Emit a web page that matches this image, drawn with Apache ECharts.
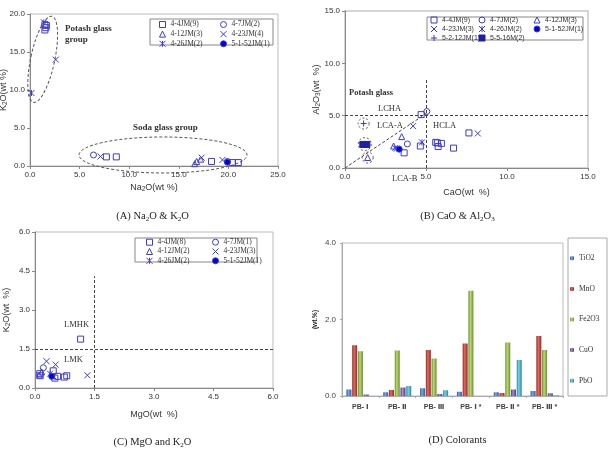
<!DOCTYPE html>
<html><head><meta charset="utf-8">
<script src="https://cdn.jsdelivr.net/npm/echarts@6/dist/echarts.min.js"></script>
<style>
html,body{margin:0;padding:0;background:#fff;width:610px;height:452px;overflow:hidden;}
.p{position:absolute;width:305px;height:226px;}
</style></head><body>
<div id="a" class="p" style="left:0;top:0"></div>
<div id="b" class="p" style="left:305px;top:0"></div>
<div id="c" class="p" style="left:0;top:226px"></div>
<div id="d" class="p" style="left:305px;top:226px"></div>
<script>
// ---------- Panel A: Na2O vs K2O ----------
const A_4_4JM = [[1.5,18.6],[1.6,18.2],[1.5,17.9],[1.65,18.5],[7.7,1.2],[8.7,1.2],[18.3,0.6],[20.4,0.45],[21.0,0.45]];
const A_4_7JM = [[6.4,1.45],[19.9,0.6]];
const A_4_12JM = [[16.6,0.3],[16.8,0.6],[17.2,0.9]];
const A_4_23JM = [[2.6,14.0],[7.1,1.25],[17.3,1.1],[19.4,0.8]];
const A_4_26JM = [[0.15,9.6],[1.4,18.9]];
const A_5_1_52JM = [[19.9,0.5]];
const A_ticksX = [0,25,5];
const A_ticksY = [0,20,5];

// ---------- Panel B: CaO vs Al2O3 ----------
const B_4_4JM = [[4.7,5.1],[4.65,2.1],[3.65,1.45],[5.6,2.45],[5.75,2.05],[5.95,2.35],[6.7,1.9],[7.65,3.35],[5.7,2.4]];
const B_4_7JM = [[3.85,2.3],[5.05,5.4]];
const B_4_12JM = [[1.4,1.0],[3.0,2.1],[3.5,3.0]];
const B_4_23JM = [[4.2,4.0],[8.2,3.3],[3.1,1.9]];
const B_4_26JM = [[4.75,2.45],[3.2,1.85]];
const B_5_1_52JM = [[3.35,1.8]];
const B_5_2_12JM = [[1.15,4.25]];
const B_5_5_16M = [[1.1,2.25],[1.35,2.25]];

// ---------- Panel C: MgO vs K2O ----------
const C_4_4JM = [[0.12,0.55],[0.13,0.47],[0.46,0.66],[0.5,0.38],[0.57,0.45],[0.74,0.42],[0.8,0.47],[1.15,1.88]];
const C_4_7JM = [[0.21,0.78]];
const C_4_12JM = [[0.17,0.62],[0.11,0.5]];
const C_4_23JM = [[0.29,1.03],[0.52,0.9],[1.32,0.49]];
const C_4_26JM = [[0.38,0.55],[0.46,0.45]];
const C_5_1_52JM = [[0.42,0.45]];

// ---------- Panel D: Colorants ----------
const D_cats = ['PB- Ⅰ','PB- Ⅱ','PB- Ⅲ','PB- Ⅰ *','PB- Ⅱ *','PB- Ⅲ *'];
const D_TiO2 = [0.17,0.10,0.20,0.11,0.10,0.13];
const D_MnO = [1.33,0.16,1.20,1.37,0.08,1.57];
const D_Fe2O3 = [1.17,1.19,0.98,2.75,1.40,1.20];
const D_CuO = [0.04,0.22,0.05,0.0,0.17,0.07];
const D_PbO = [0.0,0.26,0.15,0.0,0.94,0.02];

const BLUE = '#3c3ccc';
const SANS = 'Liberation Sans, Arial, sans-serif';
const SERIF = 'Liberation Serif, Times New Roman, serif';
const SYM = {
  rect:'rect', circle:'circle', tri:'triangle',
  x:'path://M0,0L10,10M10,0L0,10',
  star:'path://M0,0L10,10M10,0L0,10M5,0L5,10',
  plus:'path://M5,0L5,10M0,5L10,5'
};
const SUB = {s:{fontSize:6.5, lineHeight:7, verticalAlign:'bottom', fontFamily:SANS, color:'#333'}};

function sc(name, data, symbol, filled, size, col) {
  return {type:'scatter', name, data, symbol: SYM[symbol], symbolSize: size||6,
    itemStyle:{color: filled ? (col||'#0000dd') : 'rgba(0,0,0,0)', borderColor: col||BLUE, borderWidth:1, opacity:1},
    emphasis:{disabled:true}, z:3, silent:true};
}
function vAxis(r, name, gap, extra) {
  return Object.assign({type:'value', min:r[0], max:r[1], interval:r[2], name, nameLocation:'middle', nameGap:gap,
    nameMoveOverlap:false,
    nameTextStyle:{fontFamily:SANS, fontSize:9, color:'#333', lineHeight:10, rich:SUB},
    axisLine:{show:true, onZero:false, lineStyle:{color:'#888'}},
    axisTick:{show:true, length:3, lineStyle:{color:'#888'}},
    axisLabel:{fontFamily:SANS, fontSize:8, color:'#333', margin:5, formatter:v=>v.toFixed(1)},
    splitLine:{show:false}}, extra||{});
}
function gridOf(l, t, w, h, bc, bw) {
  return {left:l, top:t, width:w, height:h, show:true, borderColor:bc, borderWidth:bw, containLabel:false, outerBoundsMode:'none'};
}
function legCol(data, left, top, font, fs, lh, gap) {
  return {data, orient:'vertical', left, top, padding:0, itemWidth:6, itemHeight:6, itemGap:gap,
    selectedMode:false, textStyle:{fontFamily:font, fontSize:fs, color:'#333', lineHeight:lh},
    itemStyle:{borderWidth:1}};
}
function caption(text) {
  return {text, left:'center', top:204, textStyle:{fontFamily:SERIF, fontSize:10.5, fontWeight:'normal', color:'#222', lineHeight:14,
    rich:{s:{fontFamily:SERIF, fontSize:7, lineHeight:7, verticalAlign:'bottom', color:'#222'}}}};
}
function txt(x, y, t, opt) {
  return {type:'text', left:x, top:y, z:10, style:Object.assign({text:t, fill:'#333', fontFamily:SERIF, fontSize:8.5}, opt||{})};
}
const dash = {type:[3,2], color:'#444', width:1};

// ===== A =====
const ca = echarts.init(document.getElementById('a'), null, {renderer:'canvas'});
ca.setOption({
  animation:false,
  title: caption('(A) Na{s|2}O & K{s|2}O'),
  grid: gridOf(30, 14, 248, 152, '#bbb', 1),
  xAxis: vAxis(A_ticksX, 'Na{s|2}O(wt %)', 17),
  yAxis: vAxis(A_ticksY, 'K{s|2}O(wt %)', 21),
  legend:[
    legCol(['4-4JM(9)','4-12JM(3)','4-26JM(2)'], 159, 20.5, SERIF, 7.5, 7, 1.65),
    legCol(['4-7JM(2)','4-23JM(4)','5-1-52JM(1)'], 220, 20.5, SERIF, 7.5, 7, 1.65)
  ],
  series:[
    sc('4-4JM(9)', A_4_4JM, 'rect'),
    sc('4-7JM(2)', A_4_7JM, 'circle'),
    sc('4-12JM(3)', A_4_12JM, 'tri'),
    sc('4-23JM(4)', A_4_23JM, 'x'),
    sc('4-26JM(2)', A_4_26JM, 'star'),
    sc('5-1-52JM(1)', A_5_1_52JM, 'circle', true, 6)
  ]
});
{
  const p1 = ca.convertToPixel({gridIndex:0}, [1.28,14.04]);
  const p2 = ca.convertToPixel({gridIndex:0}, [13.41,1.45]);
  ca.setOption({graphic:[
    {type:'rect', shape:{x:150, y:19, width:123, height:26}, style:{fill:'#fff', stroke:'#888', lineWidth:1}, z:1},
    {type:'ellipse', x:p1[0], y:p1[1], rotation:-0.21, shape:{cx:0, cy:0, rx:12, ry:44}, style:{fill:'none', stroke:'#555', lineDash:[3,2]}, z:2},
    {type:'ellipse', shape:{cx:p2[0], cy:p2[1], rx:84, ry:18}, style:{fill:'none', stroke:'#555', lineDash:[3,2]}, z:2},
    txt(65, 24, 'Potash glass', {fontWeight:'bold', fontSize:9}),
    txt(65, 35, 'group', {fontWeight:'bold', fontSize:9}),
    txt(133, 123, 'Soda glass group', {fontWeight:'bold', fontSize:9})
  ]});
}

// ===== B =====
const cb = echarts.init(document.getElementById('b'), null, {renderer:'canvas'});
const bFirst = sc('4-4JM(9)', B_4_4JM, 'rect');
bFirst.markLine = {silent:true, symbol:'none', label:{show:false}, lineStyle:dash, animation:false,
  data:[ [{coord:[0,5]},{coord:[15,5]}], [{coord:[5,0]},{coord:[5,8.4]}], [{coord:[0,0]},{coord:[5.1,5.3]}] ]};
cb.setOption({
  animation:false,
  title: caption('(B) CaO & Al{s|2}O{s|3}'),
  grid: gridOf(40, 11, 243, 157, '#c8c8c8', 1.5),
  xAxis: vAxis([0,15,5], 'CaO(wt  %)', 20),
  yAxis: vAxis([0,15,5], 'Al{s|2}O{s|3}(wt  %)', 23),
  legend:[
    legCol(['4-4JM(9)','4-23JM(3)','5-2-12JM(1)'], 125.5, 16.5, SANS, 7, 6.5, 2),
    legCol(['4-7JM(2)','4-26JM(2)','5-5-16M(2)'], 173.5, 16.5, SANS, 7, 6.5, 2),
    legCol(['4-12JM(3)','5-1-52JM(1)'], 228.5, 16.5, SANS, 7, 6.5, 2)
  ],
  series:[
    bFirst,
    sc('4-7JM(2)', B_4_7JM, 'circle'),
    sc('4-12JM(3)', B_4_12JM, 'tri'),
    sc('4-23JM(3)', B_4_23JM, 'x'),
    sc('4-26JM(2)', B_4_26JM, 'star'),
    sc('5-1-52JM(1)', B_5_1_52JM, 'circle', true, 6),
    sc('5-2-12JM(1)', B_5_2_12JM, 'plus'),
    sc('5-5-16M(2)', B_5_5_16M, 'rect', true, 6, '#1e1ea8')
  ]
});
{
  const c1 = cb.convertToPixel({gridIndex:0}, [1.15,4.25]);
  const c2 = cb.convertToPixel({gridIndex:0}, [1.22,2.28]);
  const c3 = cb.convertToPixel({gridIndex:0}, [1.4,1.0]);
  const cs = {fill:'none', stroke:'#555', lineDash:[2,2]};
  cb.setOption({graphic:[
    {type:'rect', shape:{x:122, y:17, width:156, height:23}, style:{fill:'#fff', stroke:'#888', lineWidth:1}, z:1},
    {type:'circle', shape:{cx:c1[0], cy:c1[1], r:5.5}, style:cs, z:2},
    {type:'circle', shape:{cx:c2[0], cy:c2[1], r:6.5}, style:cs, z:2},
    {type:'circle', shape:{cx:c3[0], cy:c3[1], r:5.5}, style:cs, z:2},
    txt(44, 88, 'Potash glass', {fontWeight:'bold', fontSize:8.5}),
    txt(73, 104, 'LCHA'),
    txt(72, 121, 'LCA-A'),
    txt(128, 121, 'HCLA'),
    txt(87, 174, 'LCA-B')
  ]});
}

// ===== C =====
const cc = echarts.init(document.getElementById('c'), null, {renderer:'canvas'});
const cFirst = sc('4-4JM(8)', C_4_4JM, 'rect');
cFirst.markLine = {silent:true, symbol:'none', label:{show:false}, lineStyle:dash, animation:false,
  data:[ [{coord:[0,1.5]},{coord:[6,1.5]}], [{coord:[1.5,0]},{coord:[1.5,4.3]}] ]};
cc.setOption({
  animation:false,
  title: caption('(C) MgO and K{s|2}O'),
  grid: gridOf(35, 6, 238, 156, '#bbb', 1),
  xAxis: vAxis([0,6,1.5], 'MgO(wt  %)', 22),
  yAxis: vAxis([0,6,1.5], 'K{s|2}O(wt  %)', 23),
  legend:[
    legCol(['4-4JM(8)','4-12JM(2)','4-26JM(2)'], 146, 12.2, SERIF, 7.5, 7, 1.3),
    legCol(['4-7JM(1)','4-23JM(3)','5-1-52JM(1)'], 212, 12.2, SERIF, 7.5, 7, 1.3)
  ],
  series:[
    cFirst,
    sc('4-7JM(1)', C_4_7JM, 'circle'),
    sc('4-12JM(2)', C_4_12JM, 'tri'),
    sc('4-23JM(3)', C_4_23JM, 'x'),
    sc('4-26JM(2)', C_4_26JM, 'star'),
    sc('5-1-52JM(1)', C_5_1_52JM, 'circle', true, 6)
  ]
});
cc.setOption({graphic:[
  {type:'rect', shape:{x:135, y:12, width:122, height:24}, style:{fill:'#fff', stroke:'#888', lineWidth:1}, z:1},
  txt(64, 94, 'LMHK'),
  txt(64, 129, 'LMK')
]});

// ===== D =====
const cd = echarts.init(document.getElementById('d'), null, {renderer:'canvas'});
function grad(light, dark) {
  return new echarts.graphic.LinearGradient(0,0,1,0,[{offset:0,color:dark},{offset:0.4,color:light},{offset:1,color:dark}]);
}
function bar(name, data, light, dark) {
  return {type:'bar', name, data, barWidth:5, barGap:'15%', silent:true,
    itemStyle:{color:grad(light, dark)}, emphasis:{disabled:true}};
}
cd.setOption({
  animation:false,
  title:{text:'(D) Colorants', left:'center', top:204, textStyle:{fontFamily:SERIF, fontSize:10.5, fontWeight:'normal', color:'#222'}},
  grid: gridOf(37, 17, 221, 153, '#bbb', 1),
  xAxis:{type:'category', data:D_cats, axisLine:{lineStyle:{color:'#aaa'}},
    axisTick:{show:true, length:2, lineStyle:{color:'#aaa'}},
    axisLabel:{fontFamily:'Liberation Sans, DejaVu Sans, sans-serif', fontSize:7, color:'#444', fontWeight:'bold', margin:8}},
  yAxis:{type:'value', min:0, max:4, interval:2, name:'(wt.%)', nameLocation:'middle', nameGap:23, nameMoveOverlap:false,
    nameTextStyle:{fontFamily:SANS, fontSize:6.5, fontWeight:'bold', color:'#222'},
    axisLine:{show:true, lineStyle:{color:'#aaa'}}, axisTick:{show:true, length:2, lineStyle:{color:'#aaa'}},
    axisLabel:{fontFamily:SANS, fontSize:8, color:'#444', margin:6, formatter:v=>v.toFixed(1)},
    splitLine:{show:false}},
  legend:{data:['TiO2','MnO','Fe2O3','CuO','PbO'], orient:'vertical', left:265, top:28, padding:0,
    itemWidth:4, itemHeight:4, itemGap:22, selectedMode:false,
    textStyle:{fontFamily:SERIF, fontSize:7.5, color:'#333', lineHeight:8.6}},
  series:[
    bar('TiO2', D_TiO2, '#7aa7e0', '#2c5a9a'),
    bar('MnO', D_MnO, '#e06a62', '#922a25'),
    bar('Fe2O3', D_Fe2O3, '#b8da72', '#6c8c2c'),
    bar('CuO', D_CuO, '#a78ccc', '#553a7c'),
    bar('PbO', D_PbO, '#78d2e6', '#2a88a0')
  ]
});
cd.setOption({graphic:[
  {type:'rect', shape:{x:263, y:12, width:39, height:158}, style:{fill:'#fff', stroke:'#aaa', lineWidth:1}, z:1}
]});
</script>
</body></html>
